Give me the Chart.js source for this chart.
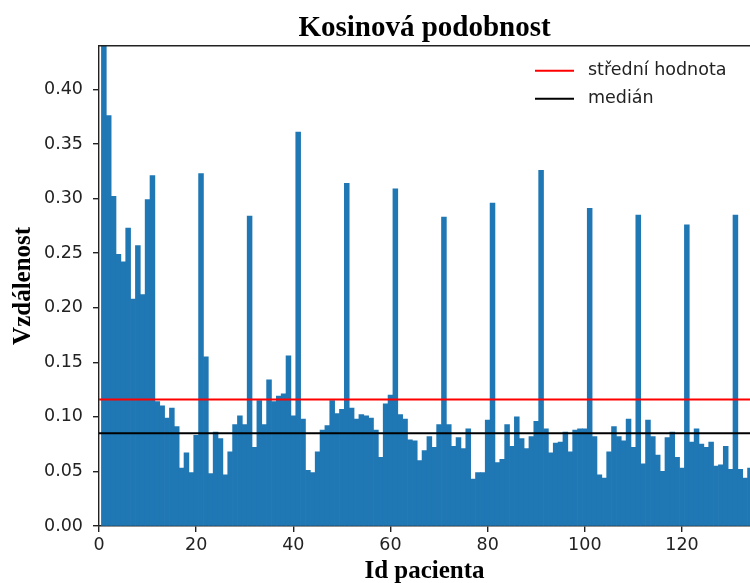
<!DOCTYPE html>
<html>
<head>
<meta charset="utf-8">
<script src="https://cdn.jsdelivr.net/npm/chart.js@4.4.1/dist/chart.umd.min.js"></script>
<style>
    html, body { margin: 0; padding: 0; background: #fff; }
</style>
</head>
<body>
<canvas id="grafVzdalenost" width="750" height="583"></canvas>
<script>
// id pacienta (osa x)
const idPacienta = [
    1, 2, 3, 4, 5, 6, 7, 8, 9, 10, 11, 12, 13, 14, 15, 16, 17, 18, 19, 20,
    21, 22, 23, 24, 25, 26, 27, 28, 29, 30, 31, 32, 33, 34, 35, 36, 37, 38, 39, 40,
    41, 42, 43, 44, 45, 46, 47, 48, 49, 50, 51, 52, 53, 54, 55, 56, 57, 58, 59, 60,
    61, 62, 63, 64, 65, 66, 67, 68, 69, 70, 71, 72, 73, 74, 75, 76, 77, 78, 79, 80,
    81, 82, 83, 84, 85, 86, 87, 88, 89, 90, 91, 92, 93, 94, 95, 96, 97, 98, 99, 100,
    101, 102, 103, 104, 105, 106, 107, 108, 109, 110, 111, 112, 113, 114, 115, 116, 117, 118, 119, 120,
    121, 122, 123, 124, 125, 126, 127, 128, 129, 130, 131, 132, 133, 134
];

// kosinova vzdalenost pro kazdeho pacienta
const vzdalenost = [
    0.470, 0.376, 0.302, 0.249, 0.242, 0.273, 0.208, 0.257, 0.212, 0.299,
    0.321, 0.114, 0.110, 0.099, 0.108, 0.091, 0.053, 0.067, 0.049, 0.083,
    0.323, 0.155, 0.048, 0.086, 0.080, 0.047, 0.068, 0.093, 0.101, 0.093,
    0.284, 0.072, 0.115, 0.093, 0.134, 0.114, 0.119, 0.121, 0.156, 0.101,
    0.361, 0.098, 0.051, 0.049, 0.068, 0.088, 0.092, 0.115, 0.103, 0.107,
    0.314, 0.108, 0.098, 0.102, 0.101, 0.099, 0.088, 0.063, 0.112, 0.120,
    0.309, 0.102, 0.098, 0.079, 0.078, 0.060, 0.069, 0.082, 0.072, 0.093,
    0.283, 0.093, 0.073, 0.081, 0.071, 0.089, 0.043, 0.049, 0.049, 0.097,
    0.296, 0.058, 0.061, 0.093, 0.073, 0.100, 0.080, 0.071, 0.082, 0.096,
    0.326, 0.089, 0.067, 0.076, 0.077, 0.086, 0.068, 0.088, 0.089, 0.089,
    0.291, 0.082, 0.047, 0.044, 0.068, 0.091, 0.082, 0.078, 0.098, 0.072,
    0.285, 0.057, 0.097, 0.082, 0.065, 0.050, 0.081, 0.086, 0.063, 0.053,
    0.276, 0.077, 0.089, 0.075, 0.072, 0.077, 0.055, 0.056, 0.073, 0.052,
    0.285, 0.052, 0.044, 0.053
];

const stredniHodnota = 0.116;
const median = 0.085;

// rozsah os
const xMax = 134;
const yMax = 0.44;

const serif = "'Liberation Serif', 'Times New Roman', serif";
const sans = "'DejaVu Sans', sans-serif";
const barvaOs = "#222";

// legenda uvnitr grafu vpravo nahore + horni okraj ramecku
const legendaVnitrni = {
    id: "legendaVnitrni",
    afterDraw(chart) {
        const ctx = chart.ctx;
        const area = chart.chartArea;
        ctx.save();

        ctx.strokeStyle = barvaOs;
        ctx.lineWidth = 1.4;
        ctx.beginPath();
        ctx.moveTo(area.left, area.top);
        ctx.lineTo(area.right, area.top);
        ctx.stroke();

        const cary = chart.data.datasets.filter(d => d.type === "line");
        ctx.font = "17.5px " + sans;
        ctx.textBaseline = "middle";
        ctx.textAlign = "left";
        cary.forEach((d, i) => {
            const y = area.top + 25 + i * 28;
            ctx.strokeStyle = d.borderColor;
            ctx.lineWidth = 2;
            ctx.beginPath();
            ctx.moveTo(area.right - 215, y);
            ctx.lineTo(area.right - 176, y);
            ctx.stroke();
            ctx.fillStyle = "#222";
            ctx.fillText(d.label, area.right - 162, y);
        });
        ctx.restore();
    }
};

const ctx = document.getElementById("grafVzdalenost").getContext("2d");

new Chart(ctx, {
    type: "bar",
    data: {
        datasets: [
            {
                type: "bar",
                label: "vzdálenost",
                data: idPacienta.map((id, i) => ({ x: id, y: vzdalenost[i] })),
                backgroundColor: "#1f77b4",
                borderWidth: 0,
                barPercentage: 1,
                categoryPercentage: 1,
                clip: 0,
                order: 2
            },
            {
                type: "line",
                label: "střední hodnota",
                data: [{ x: 0, y: stredniHodnota }, { x: xMax, y: stredniHodnota }],
                borderColor: "#ff0000",
                borderWidth: 2,
                pointRadius: 0,
                order: 1
            },
            {
                type: "line",
                label: "medián",
                data: [{ x: 0, y: median }, { x: xMax, y: median }],
                borderColor: "#000000",
                borderWidth: 2,
                pointRadius: 0,
                order: 1
            }
        ]
    },
    options: {
        responsive: false,
        animation: false,
        devicePixelRatio: 1,
        layout: { padding: 0 },
        plugins: {
            legend: { display: false },
            tooltip: { enabled: false },
            title: {
                display: true,
                text: "Kosinová podobnost",
                fullSize: false,
                color: "#000",
                font: { family: serif, size: 29, weight: "bold" },
                padding: { top: 11, bottom: 0 }
            }
        },
        scales: {
            x: {
                type: "linear",
                min: 0,
                max: xMax,
                offset: false,
                grid: { drawOnChartArea: false, drawTicks: true, tickLength: 6, color: barvaOs, lineWidth: 1.4, offset: false },
                border: { display: true, color: barvaOs, width: 1.4 },
                ticks: {
                    stepSize: 20,
                    includeBounds: false,
                    padding: 3,
                    maxRotation: 0,
                    color: "#222",
                    font: { family: sans, size: 17.5 }
                },
                title: {
                    display: true,
                    text: "Id pacienta",
                    color: "#000",
                    font: { family: serif, size: 25, weight: "bold", lineHeight: 0.9 },
                    padding: 0
                },
                afterFit: s => { s.height = 57; }
            },
            y: {
                min: 0,
                max: yMax,
                grid: { drawOnChartArea: false, drawTicks: true, tickLength: 6, color: barvaOs, lineWidth: 1.4 },
                border: { display: true, color: barvaOs, width: 1.4 },
                ticks: {
                    stepSize: 0.05,
                    includeBounds: false,
                    padding: 10,
                    color: "#222",
                    font: { family: sans, size: 17.5 },
                    callback: v => v.toFixed(2)
                },
                title: {
                    display: true,
                    text: "Vzdálenost",
                    color: "#000",
                    font: { family: serif, size: 25, weight: "bold" },
                    padding: { top: 8.5, bottom: 0 }
                },
                afterFit: s => { s.width = 99; }
            }
        }
    },
    plugins: [legendaVnitrni]
});
</script>
</body>
</html>
